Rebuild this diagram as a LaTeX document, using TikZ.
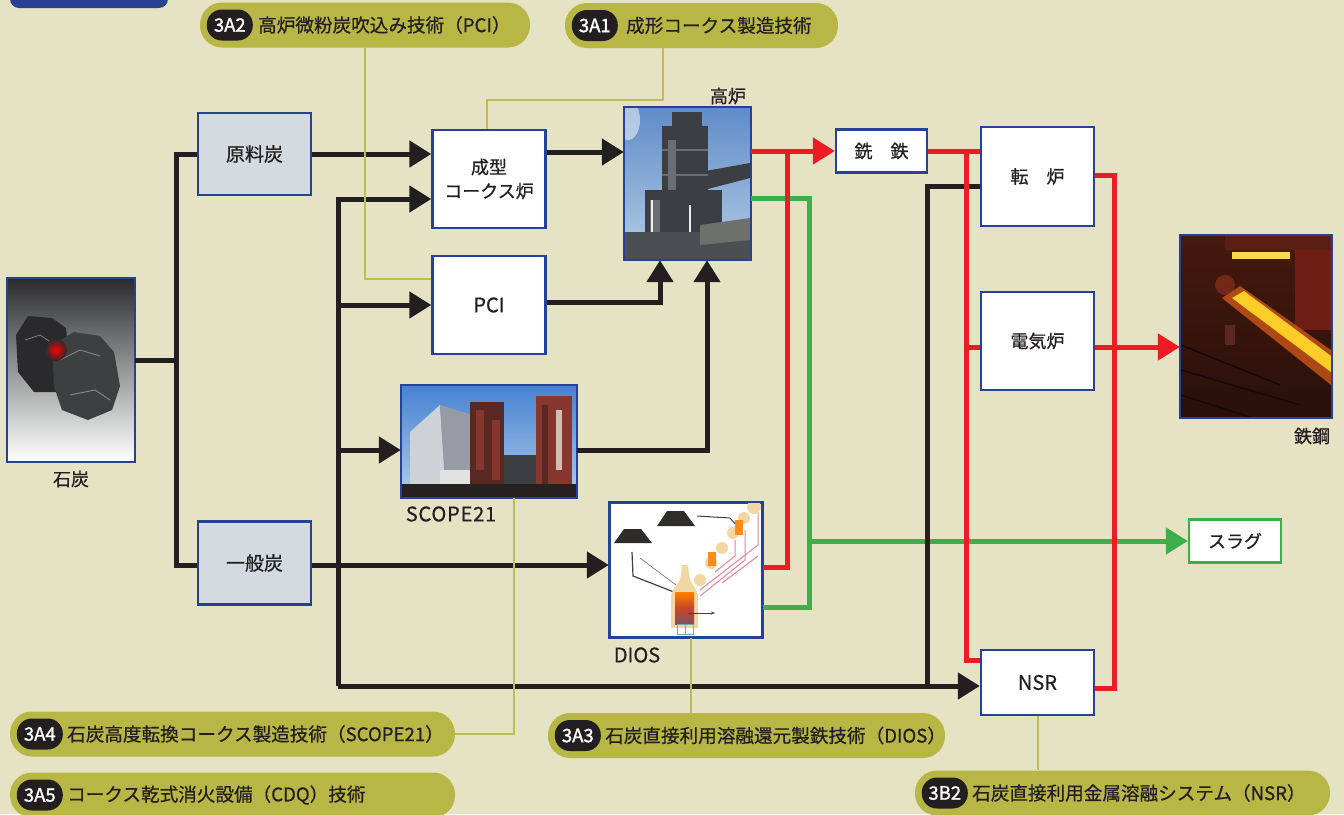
\documentclass[tikz,border=0pt]{standalone}
\usepackage{fontspec}
\setmainfont{Noto Sans CJK JP}[FakeBold=0.6]
\newfontfamily\badgefont{Noto Sans CJK JP}[FakeBold=1.4]
\usetikzlibrary{arrows.meta}
\definecolor{bg}{RGB}{230,227,197}
\definecolor{txt}{RGB}{35,31,32}
\definecolor{bluebd}{RGB}{38,66,150}
\definecolor{boxfill}{RGB}{211,218,224}
\definecolor{olivepill}{RGB}{184,182,68}
\definecolor{oliveln}{RGB}{190,188,84}
\definecolor{lineblk}{RGB}{35,31,32}
\definecolor{redc}{RGB}{237,28,36}
\definecolor{greenc}{RGB}{61,174,73}
\definecolor{tabblue}{RGB}{40,66,145}
\definecolor{coaldark}{RGB}{42,42,44}
\definecolor{coalmid}{RGB}{62,63,64}
\definecolor{coalgray}{RGB}{150,152,152}
\definecolor{skytop}{RGB}{95,140,200}
\definecolor{skybot}{RGB}{180,205,228}
\definecolor{bfdark}{RGB}{60,62,66}
\definecolor{bfmid}{RGB}{105,108,112}
\definecolor{gndA}{RGB}{75,78,82}
\definecolor{gndB}{RGB}{110,112,108}
\definecolor{skyAtop}{RGB}{70,130,210}
\definecolor{skyAbot}{RGB}{175,205,235}
\definecolor{bldlt}{RGB}{205,210,215}
\definecolor{blddk}{RGB}{150,155,165}
\definecolor{pale}{RGB}{210,190,180}
\definecolor{lgray}{RGB}{225,225,225}
\definecolor{dground}{RGB}{40,32,32}
\definecolor{rust}{RGB}{135,55,45}
\definecolor{rustdk}{RGB}{90,40,35}
\definecolor{steeldk}{RGB}{40,16,10}
\definecolor{stltop}{RGB}{70,25,15}
\definecolor{stlred}{RGB}{110,30,20}
\definecolor{stlredb}{RGB}{90,30,20}
\definecolor{stlglow}{RGB}{150,50,30}
\definecolor{stlline}{RGB}{25,8,5}
\definecolor{stlbrn}{RGB}{90,40,30}
\definecolor{glow}{RGB}{250,205,40}
\definecolor{glowor}{RGB}{225,95,25}
\definecolor{furnout}{RGB}{242,215,165}
\definecolor{furnbot}{RGB}{130,80,100}
\definecolor{furnmid}{RGB}{200,70,40}
\definecolor{pinkln}{RGB}{232,130,150}
\definecolor{pilec}{RGB}{48,44,44}
\tikzset{
  box/.style={draw=bluebd, line width=2.4pt, fill=white, inner sep=0pt, align=center,
    text=txt, font=\fontsize{18}{24}\selectfont},
  graybox/.style={box, fill=boxfill, font=\fontsize{19}{24}\selectfont},
  photo/.style={draw=bluebd, line width=2.4pt, fill=white, inner sep=0pt},
  photobd/.style={draw=bluebd, line width=2.4pt},
  lbl/.style={inner sep=0pt, text=txt, font=\fontsize{18}{20}\selectfont},
  pill/.style={fill=olivepill, rounded corners=22pt, minimum height=45pt, inner sep=0pt},
  badge/.style={fill=lineblk, rounded corners=15pt, minimum width=46pt, minimum height=31pt,
    inner sep=0pt, text=white, font=\badgefont\fontsize{18.5}{18}\selectfont},
  pilltext/.style={anchor=west, inner sep=0pt, text=txt, font=\fontsize{18.6}{18}\selectfont},
  blk/.style={draw=lineblk, line width=5pt},
  redln/.style={draw=redc, line width=5pt},
  grnln/.style={draw=greenc, line width=5pt},
  oln/.style={draw=oliveln, line width=2pt},
  tipA/.style={-{Triangle[length=22pt,width=26pt]}},
}
\begin{document}
\begin{tikzpicture}[x=1pt,y=-1pt]
\useasboundingbox (0,0) rectangle (1344,814);
\clip (0,0) rectangle (1344,814);
\fill[bg] (0,0) rectangle (1344,814);
% top-left tab
\fill[tabblue, rounded corners=9pt] (10,-20) rectangle (168,8);

% ---------- pills ----------
\node[pill, minimum width=330pt] (p3a2) at (365,25) {};
\node[badge] (b3a2) at ([xshift=30pt]p3a2.west) {3A2};
\node[pilltext] (t3a2) at ([xshift=5pt]b3a2.east) {高炉微粉炭吹込み技術（PCI）};

\node[pill, minimum width=273pt] (p3a1) at (701.5,25.5) {};
\node[badge] (b3a1) at ([xshift=30pt]p3a1.west) {3A1};
\node[pilltext] (t3a1) at ([xshift=8pt]b3a1.east) {成形コークス製造技術};

\node[pill, minimum width=445pt] (p3a4) at (232.5,734) {};
\node[badge] (b3a4) at ([xshift=30pt]p3a4.west) {3A4};
\node[pilltext] (t3a4) at ([xshift=4pt]b3a4.east) {石炭高度転換コークス製造技術（SCOPE21）};

\node[pill, minimum width=445pt] (p3a5) at (232.5,795) {};
\node[badge] (b3a5) at ([xshift=30pt]p3a5.west) {3A5};
\node[pilltext] (t3a5) at ([xshift=4pt]b3a5.east) {コークス乾式消火設備（CDQ）技術};

\node[pill, minimum width=397pt] (p3a3) at (746.5,735.5) {};
\node[badge] (b3a3) at ([xshift=30pt]p3a3.west) {3A3};
\node[pilltext] (t3a3) at ([xshift=4pt]b3a3.east) {石炭直接利用溶融還元製鉄技術（DIOS）};

\node[pill, minimum width=415pt] (p3b2) at (1122.5,793) {};
\node[badge] (b3b2) at ([xshift=30pt]p3b2.west) {3B2};
\node[pilltext] (t3b2) at ([xshift=4pt]b3b2.east) {石炭直接利用金属溶融システム（NSR）};

% ---------- boxes ----------
\node[graybox, minimum width=113pt, minimum height=82pt] (genryo) at (254.5,154) {原料炭};
\node[graybox, minimum width=113pt, minimum height=83pt] (ippan) at (254.5,563) {一般炭};
\node[box, minimum width=113pt, minimum height=98pt] (seikei) at (489,179) {成型\\コークス炉};
\node[box, minimum width=113pt, minimum height=98pt, font=\fontsize{20}{24}\selectfont] (pci) at (489,305) {PCI};
\node[box, minimum width=91pt, minimum height=43pt] (sentetsu) at (881.5,151) {銑　鉄};
\node[box, minimum width=113pt, minimum height=99pt] (tenro) at (1037.5,176.5) {転　炉};
\node[box, minimum width=113pt, minimum height=98pt] (denki) at (1037.5,341) {電気炉};
\node[box, minimum width=113pt, minimum height=65pt, font=\fontsize{20}{24}\selectfont] (nsr) at (1037.5,682.5) {NSR};
\node[box, draw=greenc, minimum width=92pt, minimum height=43pt] (slag) at (1235,541) {スラグ};

% ---------- photos ----------
\node[photo, minimum width=126pt, minimum height=182pt] (coal) at (71,370) {};
\node[photo, minimum width=125pt, minimum height=151pt] (koro) at (687.5,183.5) {};
\node[photo, minimum width=174pt, minimum height=111pt] (scope) at (489,441.5) {};
\node[photo, minimum width=152pt, minimum height=134pt] (dios) at (686,570) {};
\node[photo, minimum width=150pt, minimum height=181pt] (steel) at (1256,326.5) {};

% coal picture
\begin{scope}
\clip (coal.north west) rectangle (coal.south east);
\shade[top color=coaldark, bottom color=white, middle color=coalgray] (coal.north west) rectangle (coal.south east);
\fill[coaldark] (16,335) -- (28,316) -- (52,318) -- (66,328) -- (70,368) -- (60,392) -- (34,392) -- (18,372) -- cycle;
\fill[coalmid] (52,345) -- (74,332) -- (100,336) -- (114,352) -- (120,386) -- (112,410) -- (88,420) -- (62,410) -- (54,386) -- cycle;
\draw[gray, line width=1pt] (60,360) -- (80,350) -- (100,356);
\draw[gray, line width=1pt] (70,395) -- (95,390) -- (110,400);
\draw[gray, line width=0.8pt] (25,340) -- (40,335) -- (55,345);
\shade[inner color=red, outer color=coaldark] (56,350) circle (11pt);
\end{scope}
\draw[photobd] (coal.north west) rectangle (coal.south east);

% blast furnace picture
\begin{scope}
\clip (koro.north west) rectangle (koro.south east);
\shade[top color=skytop, bottom color=skybot] (koro.north west) rectangle (koro.south east);
\fill[white, opacity=0.5] (628,120) ellipse (12pt and 20pt);
\fill[bfdark] (672,112) rectangle (702,128);
\fill[bfdark] (662,126) rectangle (708,200);
\fill[bfmid] (668,140) rectangle (676,200);
\fill[bfdark] (700,172) -- (750,163) -- (750,178) -- (704,190) -- cycle;
\fill[bfdark] (645,190) rectangle (722,238);
\fill[bfmid] (650,200) rectangle (660,235);
\draw[white!85!gray, line width=2.5pt] (652,200) -- (652,259);
\draw[white!85!gray, line width=2pt] (690,205) -- (690,259);
\draw[bfmid, line width=1.5pt] (662,150) -- (708,150);
\draw[bfmid, line width=1.5pt] (662,175) -- (708,175);
\fill[gndA] (625,232) rectangle (750,259);
\fill[gndB] (700,225) -- (750,218) -- (750,240) -- (700,245) -- cycle;
\end{scope}
\draw[photobd] (koro.north west) rectangle (koro.south east);

% SCOPE21 picture
\begin{scope}
\clip (scope.north west) rectangle (scope.south east);
\shade[top color=skyAtop, bottom color=skyAbot] (scope.north west) rectangle (scope.south east);
\fill[bldlt] (410,497) -- (410,432) -- (440,405) -- (446,497) -- cycle;
\fill[blddk] (440,405) -- (476,416) -- (480,497) -- (446,497) -- cycle;
\fill[rustdk] (470,402) rectangle (504,497);
\fill[rust] (476,410) rectangle (484,470);
\fill[rust] (492,420) rectangle (500,480);
\fill[bfdark] (504,455) rectangle (538,497);
\fill[rust] (536,396) rectangle (572,497);
\fill[rustdk] (542,405) rectangle (548,490);
\fill[pale] (556,410) rectangle (562,470);
\fill[lgray] (440,470) rectangle (470,490);
\fill[dground] (402,484) rectangle (576,497);
\end{scope}
\draw[photobd] (scope.north west) rectangle (scope.south east);

% DIOS picture
\begin{scope}
\clip (dios.north west) rectangle (dios.south east);
\fill[pilec] (614,543) -- (624,529) -- (641,529) -- (652,543) -- cycle;
\fill[pilec] (657,526) -- (667,511) -- (684,511) -- (695,526) -- cycle;
\draw[darkgray, line width=1.2pt] (632,552) -- (633,576) -- (674,592);
\draw[gray, line width=0.7pt] (640,558) -- (676,585);
\draw[darkgray, line width=1pt] (697,516) -- (730,518) -- (737,526);
\draw[pinkln, line width=1pt] (700,590) -- (758,545) -- (758,508);
\draw[pinkln, line width=1pt] (700,596) -- (745,560) -- (745,530);
\draw[pinkln, line width=1pt] (715,572) -- (735,556) -- (735,540);
\draw[pinkln, line width=1pt] (722,583) -- (758,556);
\fill[furnout] (700,580) circle (6pt);
\fill[furnout] (711,563) circle (6pt);
\fill[furnout] (722,548) circle (6pt);
\fill[furnout] (733,533) circle (6pt);
\fill[furnout] (744,518) circle (6pt);
\fill[furnout] (754,507) circle (7pt);
\fill[orange!90] (708,552) rectangle (716,566);
\fill[orange!90] (735,520) rectangle (743,535);
\fill[furnout] (671,628) -- (671,598) .. controls (671,588) and (680,585) .. (681,574) -- (682,565) -- (688,565) -- (689,574) .. controls (690,585) and (698,588) .. (698,598) -- (698,628) -- cycle;
\shade[top color=orange, bottom color=furnbot, middle color=furnmid] (675,592) rectangle (694,624);
\draw[darkgray, line width=1pt, -{Stealth[length=4pt]}] (688,613) -- (715,613);
\draw[teal!60, line width=0.8pt] (677,624) rectangle (693,634);
\draw[teal!60, line width=0.8pt] (685,624) -- (685,634);
\end{scope}
\draw[photobd] (dios.north west) rectangle (dios.south east);

% steel picture
\begin{scope}
\clip (steel.north west) rectangle (steel.south east);
\shade[top color=stltop, bottom color=steeldk] (steel.north west) rectangle (steel.south east);
\fill[stlred] (1295,250) rectangle (1331,330);
\fill[stlredb] (1225,236) rectangle (1331,250);
\fill[glow!80!white] (1232,252) rectangle (1290,259);
\fill[glowor, opacity=0.7] (1222,298) -- (1240,286) -- (1331,350) -- (1331,385) -- cycle;
\fill[glow] (1232,298) -- (1244,291) -- (1331,356) -- (1331,372) -- cycle;
\fill[stlglow, opacity=0.6] (1225,285) circle (10pt);
\draw[stlline, line width=1.5pt] (1181,370) -- (1300,405);
\draw[stlline, line width=1.5pt] (1181,345) -- (1280,385);
\draw[stlline, line width=1.5pt] (1181,395) -- (1250,417);
\fill[stlbrn] (1225,325) rectangle (1235,345);
\end{scope}
\draw[photobd] (steel.north west) rectangle (steel.south east);

% photo labels
\node[lbl] (coallbl) at (71,479) {石炭};
\node[lbl] (korolbl) at (728,96) {高炉};
\node[lbl, font=\fontsize{20}{20}\selectfont] (scopelbl) at (451,514) {\addfontfeature{LetterSpace=4}SCOPE21};
\node[lbl, font=\fontsize{20}{20}\selectfont] (dioslbl) at (637,655) {DIOS};
\node[lbl] (steellbl) at (1312,436) {鉄鋼};

% ---------- coordinates ----------
\coordinate (t1) at (176,360);
\coordinate (t2a) at (338,199);
\coordinate (t2b) at (338,686);
\coordinate (t3) at (927,686);
\coordinate (r1) at (787,151);
\coordinate (r2) at (966,151);
\coordinate (r3) at (1114,175);
\coordinate (r4) at (1114,688);
\coordinate (g1) at (809,198);
\coordinate (o1) at (663,100);

% ---------- green connectors ----------
\draw[grnln] (koro.east |- g1) -- (g1) |- ([yshift=-37pt]dios.east);
\draw[grnln, tipA] (g1 |- slag.west) -- (slag.west);

% ---------- black connectors ----------
\draw[blk] (coal.east |- t1) -- (t1);
\draw[blk] (genryo.west) -| (t1) |- ([yshift=-2pt]ippan.west);
\draw[blk, tipA] (genryo.east) -- (seikei.west |- genryo.east);
\draw[blk, tipA] (t2b) -- (t2a) -- (seikei.west |- t2a);
\draw[blk, tipA] (t2b |- pci.west) -- (pci.west);
\draw[blk, tipA] (t2b |- 0,450) -- (scope.west |- 0,450);
\draw[blk, tipA] ([yshift=-2pt]ippan.east) -- ([yshift=-2pt]ippan.east -| dios.west);
\draw[blk, tipA] (t2b) -- (t2b -| nsr.west);
\draw[blk] ([yshift=-9.5pt]tenro.west) -| (t3);
\draw[blk, tipA] (seikei.east |- 0,152) -- (koro.west |- 0,152);
\draw[blk, tipA] (pci.east |- 0,302) -| ([xshift=-27.5pt]koro.south);
\draw[blk, tipA] (scope.east |- 0,450) -| ([xshift=19.5pt]koro.south);

% ---------- red connectors ----------
\draw[redln, tipA] (koro.east |- sentetsu.west) -- (sentetsu.west);
\draw[redln] ([yshift=3pt]dios.east) -| (r1);
\draw[redln] (sentetsu.east) -- (sentetsu.east -| tenro.west);
\draw[redln] (r2) |- ([yshift=22.5pt]nsr.west);
\draw[redln] (r2 |- 0,347) -- (denki.west |- 0,347);
\draw[redln] (tenro.east |- r3) -- (r3) -- (r4) -- (nsr.east |- r4);
\draw[redln, tipA] (denki.east |- 0,347) -- (steel.west |- 0,347);

% ---------- olive connectors ----------
\draw[oln] (p3a2.south) |- ([yshift=26pt]pci.west);
\draw[oln] (o1 |- p3a1.south) -- (o1) -| ([xshift=-2pt]seikei.north);
\draw[oln] ([xshift=25pt]scope.south) |- (p3a4.east);
\draw[oln] ([xshift=5pt]dios.south) -- ([xshift=5pt]dios.south |- p3a3.north);
\draw[oln] (nsr.south) -- (nsr.south |- p3b2.north);
\end{tikzpicture}
\end{document}
